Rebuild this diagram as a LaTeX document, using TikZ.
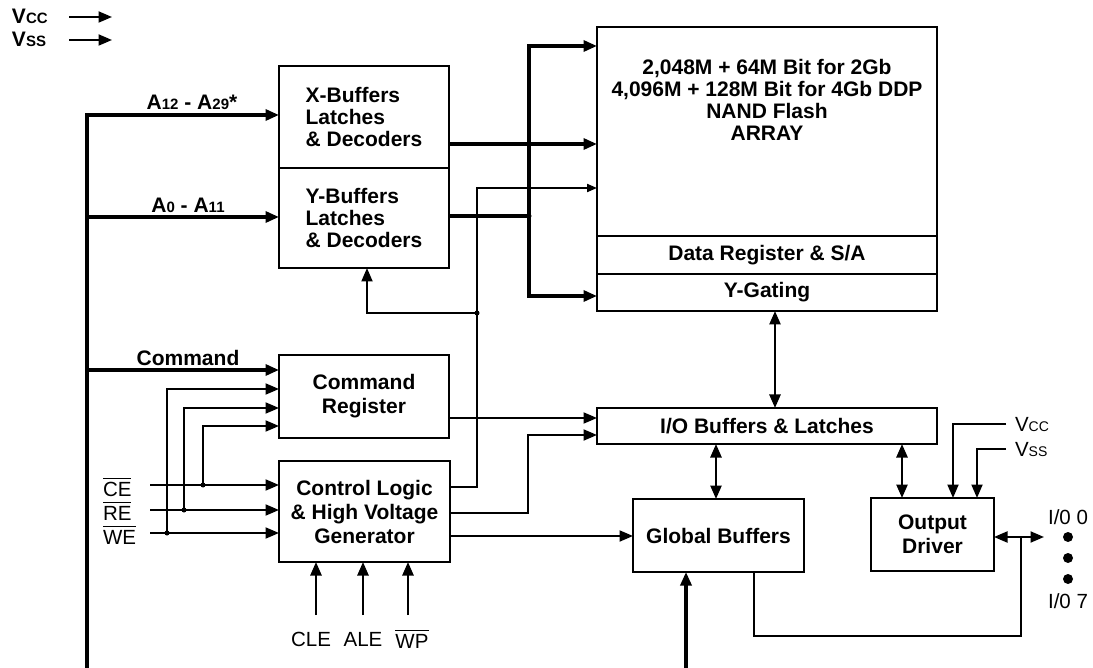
\documentclass[tikz,border=0pt]{standalone}
\usepackage{fontspec}
\setmainfont{Liberation Sans}
\usetikzlibrary{arrows.meta}
\newcommand\ovbar[1]{\vbox{\hrule height 1.4pt\kern 2.4pt\hbox{#1}}}
\newcommand\smallsz[1]{{\fontsize{14}{14}\selectfont #1}}
\newcommand\smallszb[1]{{\fontsize{15}{15}\selectfont #1}}
\begin{document}
\begin{tikzpicture}[x=1pt,y=-1pt,
  box/.style={draw,line width=2pt,inner sep=0pt,outer sep=0pt,align=center,font=\fontsize{21}{24}\selectfont\bfseries},
  lbl/.style={inner sep=0pt,outer sep=0pt,font=\fontsize{21}{22}\selectfont\bfseries},
  plain/.style={inner sep=0pt,outer sep=0pt,font=\fontsize{20.5}{22}\selectfont},
  thin/.style={line width=2pt},
  med/.style={line width=2.5pt},
  bus/.style={line width=3.2pt},
  arr/.style={-{Triangle[length=13.5pt,width=11pt]}},
  sarr/.style={-{Triangle[length=10pt,width=8pt]}},
  darr/.style={{Triangle[length=13.5pt,width=11pt]}-{Triangle[length=13.5pt,width=11pt]}},
  jdot/.style={circle,fill,inner sep=0pt,minimum size=5pt},
  iodot/.style={circle,fill,inner sep=0pt,minimum size=10pt}
]
\useasboundingbox (0,0) rectangle (1093,668);

% ---------- boxes ----------
\node[box,minimum width=170pt,minimum height=102pt,align=left,font=\fontsize{21}{22}\selectfont\bfseries] (xbuf) at (364,117) {X-Buffers\\Latches\\\& Decoders};
\node[box,minimum width=170pt,minimum height=100pt,align=left,font=\fontsize{21}{22}\selectfont\bfseries] (ybuf) at (364,218) {Y-Buffers\\Latches\\\& Decoders};
\node[box,minimum width=340pt,minimum height=209pt] (array) at (767,131.5) {};
\node[lbl,align=center] (arraytxt) at (767,100) {2,048M + 64M Bit for 2Gb\\4,096M + 128M Bit for 4Gb DDP\\NAND Flash\\ARRAY};
\node[box,minimum width=340pt,minimum height=38pt] (datareg) at (767,255) {Data Register \& S/A};
\node[box,minimum width=340pt,minimum height=37pt] (ygate) at (767,292.5) {Y-Gating};
\node[box,minimum width=170pt,minimum height=83pt] (cmdreg) at (364,396.5) {Command\\Register};
\node[box,minimum width=171pt,minimum height=101pt] (ctrl) at (364.5,511.5) {Control Logic\\\& High Voltage\\Generator};
\node[box,minimum width=340pt,minimum height=36pt] (iobuf) at (767,426) {I/O Buffers \& Latches};
\node[box,minimum width=171pt,minimum height=73pt] (global) at (718.5,535.5) {Global Buffers};
\node[box,minimum width=123pt,minimum height=73pt] (outdrv) at (932.5,534.5) {Output\\Driver};

% ---------- top-left supply ----------
\node[lbl,anchor=base west] (vcctl) at (12,24) {V\smallszb{CC}};
\node[lbl,anchor=base west] (vsstl) at (12,47) {V\smallszb{SS}};
\coordinate (vcca) at (69,17); \coordinate (vccb) at (112,17);
\coordinate (vssa) at (69,40); \coordinate (vssb) at (112,40);
\draw[thin,arr] (vcca) -- (vccb);
\draw[thin,arr] (vssa) -- (vssb);

% ---------- address / command bus ----------
\coordinate (busbot) at (87,668);
\coordinate (bustop) at (87,115);
\coordinate (bA0) at (87,217);
\coordinate (bCmd) at (87,370);
\draw[bus,arr] (busbot) -- (bustop) -- (bustop -| xbuf.west);
\draw[bus,arr] (bA0) -- (bA0 -| ybuf.west);
\draw[bus,arr] (bCmd) -- (bCmd -| cmdreg.west);
\node[lbl,anchor=base] (la12) at (192,110) {A\smallszb{12} - A\smallszb{29}*};
\node[lbl,anchor=base] (la0) at (188,213) {A\smallszb{0} - A\smallszb{11}};
\node[lbl,anchor=base] (lcmd) at (188,366) {Command};

% ---------- X / Y decoder outputs ----------
\coordinate (y144) at (0,144);
\draw[bus,arr] (xbuf.east |- y144) -- (array.west |- y144);
\coordinate (j529) at (529,216);
\coordinate (b46) at (529,46);
\coordinate (b296) at (529,296);
\draw[bus] (ybuf.east |- j529) -- (j529);
\draw[bus,arr] (j529) -- (b46) -- (b46 -| array.west);
\draw[bus,arr] (j529) -- (b296) -- (b296 -| ygate.west);
\node[jdot] (dj529) at (j529) {};

% ---------- control logic outputs ----------
\coordinate (c477a) at (477,487);
\coordinate (c477b) at (477,188);
\coordinate (d313) at (477,313);
\coordinate (c367) at (367,313);
\draw[thin,sarr] (ctrl.east |- c477a) -- (c477a) -- (c477b) -- (c477b -| array.west);
\draw[thin,arr] (d313) -- (c367) -- (c367 |- ybuf.south);
\node[jdot] (dd313) at (d313) {};

\coordinate (y418) at (0,418);
\draw[thin,arr] (cmdreg.east |- y418) -- (iobuf.west |- y418);
\coordinate (c528a) at (528,513);
\coordinate (c528b) at (528,435);
\draw[thin,arr] (ctrl.east |- c528a) -- (c528a) -- (c528b) -- (c528b -| iobuf.west);
\coordinate (y536) at (0,536);
\draw[thin,arr] (ctrl.east |- y536) -- (global.west |- y536);

% ---------- vertical data paths ----------
\coordinate (x775) at (775,0);
\coordinate (x716) at (716,0);
\coordinate (x902) at (902,0);
\draw[med,darr] (ygate.south -| x775) -- (iobuf.north -| x775);
\draw[med,darr] (iobuf.south -| x716) -- (global.north -| x716);
\draw[med,darr] (iobuf.south -| x902) -- (outdrv.north -| x902);

% ---------- output driver supply ----------
\coordinate (vr1) at (1006,424); \coordinate (vr1c) at (953,424);
\coordinate (vr2) at (1006,449); \coordinate (vr2c) at (977,449);
\draw[thin,arr] (vr1) -- (vr1c) -- (vr1c |- outdrv.north);
\draw[thin,arr] (vr2) -- (vr2c) -- (vr2c |- outdrv.north);
\node[plain,anchor=base west] (vccr) at (1015,431.5) {V\smallsz{CC}};
\node[plain,anchor=base west] (vssr) at (1015,456.5) {V\smallsz{SS}};

% ---------- I/O pins ----------
\coordinate (io0) at (1044,537);
\draw[thin,darr] (outdrv.east |- io0) -- (io0);
\coordinate (g1) at (754,636);
\coordinate (g2) at (1021,636);
\coordinate (g3) at (1021,537);
\draw[thin] (global.south -| g1) -- (g1) -- (g2) -- (g3);
\coordinate (gin) at (686,668);
\draw[bus,arr] (gin) -- (gin |- global.south);
\node[iodot] (p1) at (1068,537) {};
\node[iodot] (p2) at (1068,558) {};
\node[iodot] (p3) at (1068,579) {};
\node[plain] (lio0) at (1068,517) {I/0 0};
\node[plain] (lio7) at (1068,601) {I/0 7};

% ---------- CLE / ALE / WP ----------
\coordinate (cle) at (316,615);
\coordinate (ale) at (363,615);
\coordinate (wp) at (408,615);
\draw[med,arr] (cle) -- (cle |- ctrl.south);
\draw[med,arr] (ale) -- (ale |- ctrl.south);
\draw[med,arr] (wp) -- (wp |- ctrl.south);
\node[plain,anchor=base] (lcle) at (311,646) {CLE};
\node[plain,anchor=base] (lale) at (363,646) {ALE};
\node[plain,anchor=base] (lwp) at (412,648) {\ovbar{WP}};

% ---------- CE / RE / WE ----------
\node[plain,anchor=base west] (lce) at (103,496) {\ovbar{CE}};
\node[plain,anchor=base west] (lre) at (103,520) {\ovbar{RE}};
\node[plain,anchor=base west] (lwe) at (103,544) {\ovbar{WE}};
\coordinate (ce) at (150,485);
\coordinate (re) at (150,510);
\coordinate (we) at (150,533);
\draw[thin,arr] (ce) -- (ce -| ctrl.west);
\draw[thin,arr] (re) -- (re -| ctrl.west);
\draw[thin,arr] (we) -- (we -| ctrl.west);
\coordinate (ceT) at (203,485); \coordinate (ceU) at (203,426);
\coordinate (reT) at (184,510); \coordinate (reU) at (184,408);
\coordinate (weT) at (167,533); \coordinate (weU) at (167,389);
\draw[thin,arr] (ceT) -- (ceU) -- (ceU -| cmdreg.west);
\draw[thin,arr] (reT) -- (reU) -- (reU -| cmdreg.west);
\draw[thin,arr] (weT) -- (weU) -- (weU -| cmdreg.west);
\node[jdot] (dce) at (ceT) {};
\node[jdot] (dre) at (reT) {};
\node[jdot] (dwe) at (weT) {};
\end{tikzpicture}
\end{document}
